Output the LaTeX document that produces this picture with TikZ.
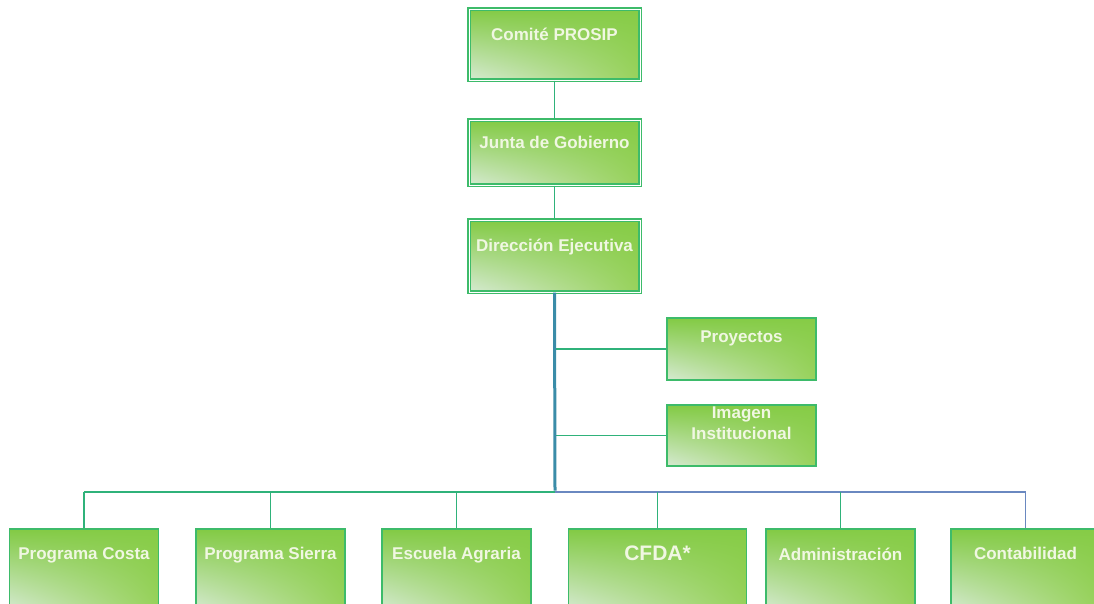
\documentclass[tikz,border=0pt]{standalone}
\usepackage{fontspec}
\setmainfont{Liberation Sans}
\usepackage{tikz}
\usetikzlibrary{shadings}

\definecolor{boxline}{HTML}{3DBB6A}
\definecolor{linegreen}{HTML}{2FB27A}
\definecolor{lineteal}{HTML}{3A8CA8}
\definecolor{lineblue}{HTML}{6A88C0}
\definecolor{txt}{HTML}{F0F7E2}
\definecolor{fillUL}{HTML}{82CA44}
\definecolor{fillUR}{HTML}{86CC46}
\definecolor{fillLR}{HTML}{98D25C}
\definecolor{fillLL}{HTML}{D6EAD2}

\begin{document}
\begin{tikzpicture}[x=1pt,y=-1pt,
  box/.style={draw=boxline,line width=1.3pt,minimum width=149pt,minimum height=62pt,inner sep=0pt,
    upper left=fillUL,upper right=fillUR,lower right=fillLR,lower left=fillLL},
  topbox/.style={box,double=white,double distance=1pt,minimum width=171pt},
  lbl/.style={text=txt,font=\fontsize{17}{19}\selectfont\bfseries,align=center,inner sep=0pt,anchor=north},
  link/.style={draw=linegreen,line width=1.8pt}]
\useasboundingbox (0,0) rectangle (1094,603);
\clip (0,0) rectangle (1094,603);

% upper chain
\node[topbox,minimum height=71pt] (comite) at (554.5,44.5) {};
\node[topbox,minimum height=65pt] (junta) at (554.5,152.5) {};
\node[topbox,minimum height=72pt] (direc) at (554.5,256) {};
\node[lbl] (comiteT) at ([yshift=-19pt]comite.north) {Comité PROSIP};
\node[lbl] (juntaT) at ([yshift=-17pt]junta.north) {Junta de Gobierno};
\node[lbl] (direcT) at ([yshift=-19pt]direc.north) {Dirección Ejecutiva};

% staff
\node[box] (proy) at (741.5,349) {};
\node[box,minimum height=61pt] (imagen) at (741.5,435.5) {};
\node[lbl] (proyT) at ([yshift=-13pt]proy.north) {Proyectos};
\node[lbl,font=\fontsize{17}{21}\selectfont\bfseries] (imagenT) at ([yshift=-2pt]imagen.north) {Imagen\\Institucional};

% bottom row
\coordinate (bus) at (555,492);
\node[box,minimum height=82pt] (costa) at (84,570) {};
\node[box,minimum height=82pt] (sierra) at (270.5,570) {};
\node[box,minimum height=82pt] (escuela) at (456.5,570) {};
\node[box,minimum height=82pt,minimum width=178pt] (cfda) at (657.5,570) {};
\node[box,minimum height=82pt] (admin) at (840.5,570) {};
\node[box,minimum height=82pt] (conta) at (1025.5,570) {};
\node[lbl] (costaT) at ([yshift=-19pt]costa.north) {Programa Costa};
\node[lbl] (sierraT) at ([yshift=-19pt]sierra.north) {Programa Sierra};
\node[lbl] (escuelaT) at ([yshift=-19pt]escuela.north) {Escuela Agraria};
\node[lbl,font=\fontsize{21}{23}\selectfont\bfseries] (cfdaT) at ([yshift=-17pt]cfda.north) {CFDA*};
\node[lbl] (adminT) at ([yshift=-19pt]admin.north) {Administración};
\node[lbl] (contaT) at ([yshift=-19pt]conta.north) {Contabilidad};

% connectors
\draw[link] (comite.south) -- (junta.north);
\draw[link] (junta.south) -- (direc.north);
\draw[link] (proy.west) -- (proy.west -| bus);
\draw[link] (imagen.west) -- (imagen.west -| bus);
\draw[draw=lineteal,line width=3pt] (direc.south) -- ([yshift=1.5pt]bus);
\draw[link] (costa.north |- bus) -- (bus);
\draw[link,draw=lineblue] (bus) -- (conta.north |- bus);
\foreach \b in {costa,sierra,escuela,cfda,admin}
  \draw[link] (\b.north |- bus) -- (\b.north);
\draw[link,draw=lineblue] (conta.north |- bus) -- (conta.north);
\end{tikzpicture}
\end{document}
